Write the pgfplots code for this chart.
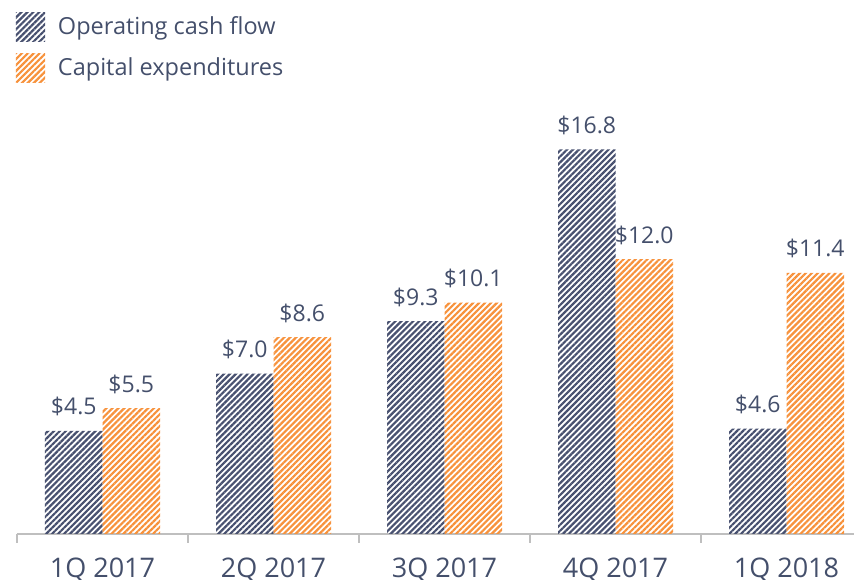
\documentclass[border=0pt]{standalone}
\usepackage{pgfplots}
\pgfplotsset{compat=1.18}
\usetikzlibrary{patterns.meta}
\usepackage{fontspec}
\setmainfont{Open Sans}
\definecolor{navy}{RGB}{72,81,112}
\definecolor{orng}{RGB}{247,146,60}
\definecolor{txt}{RGB}{68,79,107}
\definecolor{axg}{RGB}{191,191,191}
\begin{document}
\begin{tikzpicture}
\useasboundingbox (0,0) rectangle (854pt,580pt);
\begin{axis}[
  at={(17pt,46pt)}, anchor=south west,
  scale only axis, width=855pt, height=526.7pt,
  xmin=-0.5, xmax=4.5, ymin=0, ymax=23,
  clip=false,
  hide y axis,
  axis x line*=bottom,
  x axis line style={axg, line width=1.5pt},
  xtick={0,1,2,3,4},
  xticklabels={1Q 2017,2Q 2017,3Q 2017,4Q 2017,1Q 2018},
  major tick length=0pt,
  minor xtick={-0.5,0.5,1.5,2.5,3.5,4.5},
  minor tick length=9pt,
  tick align=outside,
  minor tick style={axg, line width=1.5pt},
  xticklabel style={font=\fontsize{27}{31}\selectfont, text=txt, inner sep=0pt, anchor=north, yshift=-24pt},
  /pgf/number format/assume math mode=true,
  nodes near coords={\$\pgfmathprintnumber[fixed,fixed zerofill,precision=1]{\pgfplotspointmeta}},
  every node near coord/.append style={font=\fontsize{23}{27}\selectfont, text=txt, anchor=base, yshift=16pt},
  legend image code/.code={\path[#1,draw=none] (0pt,-15.15pt) rectangle (29pt,13.85pt);},
  legend style={at={(axis description cs:0,1)}, anchor=north west, draw=none, fill=none,
    inner sep=0pt, outer sep=0pt, xshift=-1pt, yshift=-5.5pt,
    font=\fontsize{23.5}{27}\selectfont, text=txt, row sep=12pt,
    nodes={inner sep=0pt},
    /tikz/every odd column/.append style={column sep=13pt}},
  legend cell align=left,
]
\addplot[ybar, bar width=57.5pt, bar shift=-28.75pt, draw=none,
  pattern={Lines[angle=45,distance=4.2pt,line width=2.2pt]}, pattern color=navy,
  every node near coord/.append style={xshift=-28.75pt}]
  coordinates {(0,4.5)(1,7.0)(2,9.3)(3,16.8)(4,4.6)};
\addlegendentry{Operating cash flow}
\addplot[ybar, bar width=57.5pt, bar shift=28.75pt, draw=none,
  pattern={Lines[angle=45,distance=4.2pt,line width=2.2pt]}, pattern color=orng,
  every node near coord/.append style={xshift=28.75pt}]
  coordinates {(0,5.5)(1,8.6)(2,10.1)(3,12.0)(4,11.4)};
\addlegendentry{Capital expenditures}
\end{axis}
\end{tikzpicture}
\end{document}
